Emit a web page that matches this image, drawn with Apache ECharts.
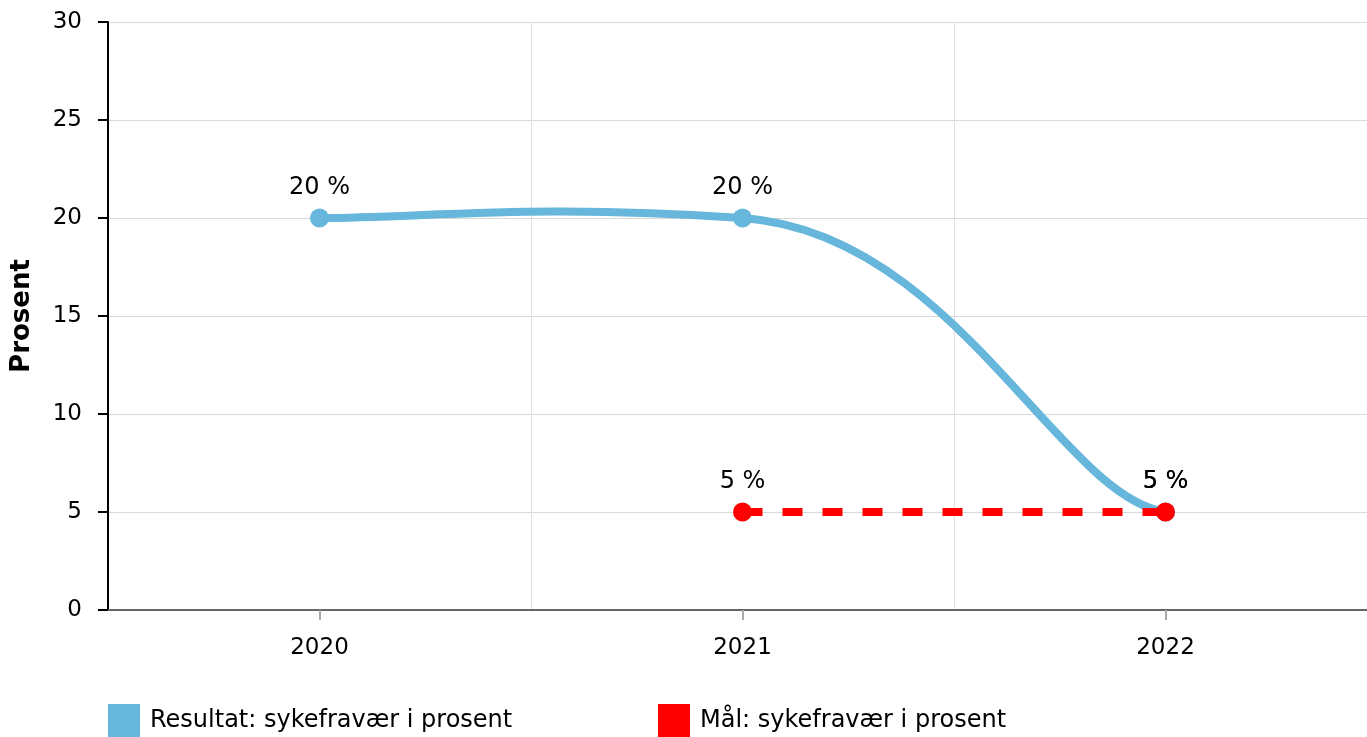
<!DOCTYPE html>
<html>
<head>
<meta charset="utf-8">
<script src="https://cdn.jsdelivr.net/npm/echarts@6/dist/echarts.min.js"></script>
<style>
html,body{margin:0;padding:0;background:#fff;}
#c{width:1367px;height:737px;}
</style>
</head>
<body>
<div id="c"></div>
<script>
const categories = ['2020', '2021', '2022'];
const resultValues = [20, 20, 5];
const goalValues = [null, 5, 5];
const seriesNames = ['Resultat: sykefravær i prosent', 'Mål: sykefravær i prosent'];
const yAxisName = 'Prosent';

const FONT = '"DejaVu Sans", Verdana, sans-serif';
const BLUE = '#67b6dc';
const RED = '#ff0000';
const TX = 0.25, TY = 0.05; // spline tension factors
const chart = echarts.init(document.getElementById('c'), null, {renderer: 'canvas'});
const labelFmt = p => p.value + ' %';

// spline drawn through the library's scales (api.coord)
function renderSpline(params, api) {
  const i = params.dataIndex;
  if (i === 0) return null;
  const n = resultValues.length;
  const pt = k => api.coord([k, resultValues[Math.max(0, Math.min(n - 1, k))]]);
  const p0 = pt(Math.max(0, i - 2));
  const p1 = pt(i - 1);
  const p2 = pt(i);
  const p3 = pt(Math.min(n - 1, i + 1));
  return {
    type: 'bezierCurve',
    shape: {
      x1: p1[0], y1: p1[1], x2: p2[0], y2: p2[1],
      cpx1: p1[0] + TX * (p2[0] - p0[0]), cpy1: p1[1] + TY * (p2[1] - p0[1]),
      cpx2: p2[0] - TX * (p3[0] - p1[0]), cpy2: p2[1] - TY * (p3[1] - p1[1])
    },
    style: {stroke: BLUE, lineWidth: 8, fill: null, lineCap: 'round'},
    silent: true
  };
}

chart.setOption({
  animation: false,
  textStyle: {fontFamily: FONT, color: '#000'},
  grid: {left: 108, top: 22, bottom: 127, width: 1269, containLabel: false, outerBoundsMode: 'none'},
  legend: [
    {data: [seriesNames[0]], left: 108, top: 704, padding: 0, itemWidth: 32, itemHeight: 34, icon: 'rect',
     textStyle: {fontFamily: FONT, fontSize: 24, color: '#000', padding: [0, 0, 0, 5]}},
    {data: [seriesNames[1]], left: 658, top: 704, padding: 0, itemWidth: 32, itemHeight: 34, icon: 'rect',
     textStyle: {fontFamily: FONT, fontSize: 24, color: '#000', padding: [0, 0, 0, 5]}}
  ],
  xAxis: {
    type: 'category',
    data: categories,
    boundaryGap: true,
    axisLine: {lineStyle: {color: '#666', width: 2}},
    axisTick: {show: true, alignWithLabel: true, length: 10, lineStyle: {color: '#aaa', width: 2}},
    axisLabel: {fontSize: 23, color: '#000', margin: 27, fontFamily: FONT},
    splitLine: {show: true, lineStyle: {color: '#e0e0e0', width: 1}}
  },
  yAxis: {
    type: 'value',
    min: 0, max: 30, interval: 5,
    name: yAxisName,
    nameLocation: 'middle',
    nameGap: 73,
    nameRotate: 90,
    nameTextStyle: {fontSize: 26, fontWeight: 'bold', color: '#000', fontFamily: FONT},
    axisLine: {show: true, lineStyle: {color: '#000', width: 2}},
    axisTick: {show: true, length: 10, lineStyle: {color: '#000', width: 2}},
    axisLabel: {fontSize: 23, color: '#000', margin: 26, fontFamily: FONT},
    splitLine: {show: true, lineStyle: {color: '#d9d9d9', width: 1}}
  },
  series: [
    {
      name: 'spline',
      type: 'custom',
      renderItem: renderSpline,
      data: resultValues.map((v, i) => [i, v]),
      encode: {x: 0, y: 1},
      z: 1
    },
    {
      name: seriesNames[0],
      type: 'line',
      data: resultValues,
      symbol: 'circle',
      symbolSize: 19,
      itemStyle: {color: BLUE},
      lineStyle: {color: BLUE, width: 0, opacity: 0},
      z: 2,
      label: {show: true, position: 'top', distance: 9, formatter: labelFmt, fontSize: 24, color: '#000', fontFamily: FONT}
    },
    {
      name: seriesNames[1],
      type: 'line',
      data: goalValues,
      symbol: 'circle',
      symbolSize: 19,
      itemStyle: {color: RED},
      lineStyle: {color: RED, width: 8, type: [20, 20]},
      z: 3,
      label: {show: true, position: 'top', distance: 9, formatter: labelFmt, fontSize: 24, color: '#000', fontFamily: FONT}
    }
  ]
});
</script>
</body>
</html>
